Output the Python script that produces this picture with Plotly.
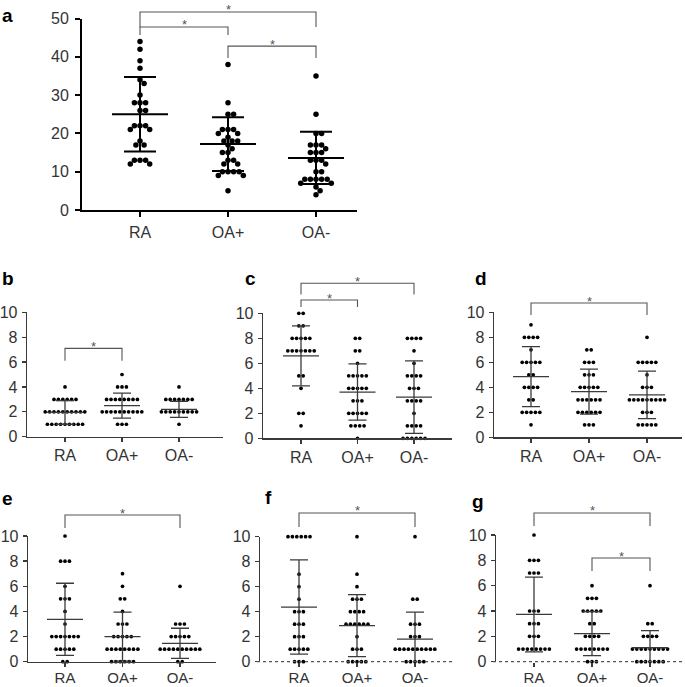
import math
import plotly.graph_objects as go

W, H = 685, 687
categories = ["RA", "OA+", "OA-"]

# ---------------- data ----------------
a_RA = [44, 42, 39, 37, 34, 33, 30, 28, 28, 28, 26, 26, 22, 22, 22, 21, 21, 18, 17, 17, 13, 13, 13, 12, 12]
a_OAp = [38, 28, 25, 25, 21, 21, 21, 20, 20, 19, 18, 18, 18, 17, 16, 15, 15, 13, 13, 12, 12, 10, 10, 10, 10, 9, 9, 5]
a_OAm = [35, 25, 20, 20, 17, 17, 17, 16, 15, 15, 15, 13, 13, 13, 12, 10, 10, 8, 8, 8, 8, 8, 7, 7, 6, 5, 4]

b_RA = [4, 3, 3, 3, 3, 3, 3, 2, 2, 2, 2, 2, 2, 2, 2, 2, 2, 1, 1, 1, 1, 1, 1, 1, 1, 1]
b_OAp = [5, 4, 4, 4, 3, 3, 3, 3, 3, 3, 3, 3, 2, 2, 2, 2, 2, 2, 2, 2, 2, 2, 1, 1, 1]
b_OAm = [4, 3, 3, 3, 3, 3, 3, 3, 2, 2, 2, 2, 2, 2, 2, 2, 2, 1]

c_RA = [10, 10, 9, 9, 8, 8, 8, 8, 8, 7, 7, 7, 7, 7, 7, 7, 5, 5, 4, 2, 2, 1]
c_OAp = [8, 8, 7, 7, 6, 5, 5, 5, 5, 5, 4, 4, 4, 4, 4, 3, 3, 3, 2, 2, 2, 2, 2, 1, 1, 1, 1, 0]
c_OAm = [8, 8, 8, 8, 7, 6, 5, 5, 5, 5, 4, 4, 4, 3, 3, 3, 3, 2, 1, 1, 1, 1, 0, 0, 0, 0, 0, 0]

d_RA = [9, 8, 8, 8, 8, 7, 6, 6, 6, 6, 6, 5, 5, 4, 4, 4, 4, 3, 3, 2, 2, 2, 2, 2, 1]
d_OAp = [7, 7, 6, 6, 6, 5, 5, 5, 4, 4, 4, 4, 4, 3, 3, 3, 3, 3, 3, 2, 2, 2, 2, 2, 2, 1, 1, 1]
d_OAm = [8, 6, 6, 6, 6, 6, 5, 4, 4, 4, 3, 3, 3, 3, 3, 3, 3, 3, 3, 2, 2, 2, 1, 1, 1, 1, 1]

e_RA = [10, 8, 8, 8, 6, 5, 5, 5, 4, 3, 2, 2, 2, 2, 2, 2, 2, 1, 1, 1, 1, 1, 0, 0]
e_OAp = [7, 6, 5, 5, 4, 3, 3, 3, 2, 2, 2, 2, 2, 1, 1, 1, 1, 1, 1, 1, 1, 0, 0, 0, 0, 0, 0]
e_OAm = [6, 3, 3, 3, 2, 2, 2, 2, 2, 1, 1, 1, 1, 1, 1, 1, 1, 1, 1, 0, 0]

f_RA = [10, 10, 10, 10, 10, 10, 7, 6, 5, 4, 4, 4, 3, 3, 3, 2, 2, 2, 1, 1, 1, 1, 1, 0, 0, 0]
f_OAp = [10, 7, 6, 5, 5, 5, 4, 4, 4, 4, 3, 3, 3, 3, 3, 3, 2, 1, 1, 1, 0, 0, 0, 0, 0]
f_OAm = [10, 5, 5, 3, 3, 3, 2, 2, 2, 1, 1, 1, 1, 1, 1, 1, 1, 1, 1, 0, 0, 0, 0, 0]

g_RA = [10, 8, 8, 8, 7, 7, 7, 4, 4, 4, 3, 3, 3, 2, 2, 2, 1, 1, 1, 1, 1, 1, 1, 1]
g_OAp = [6, 5, 5, 5, 4, 4, 4, 4, 4, 3, 3, 2, 2, 2, 2, 1, 1, 1, 1, 1, 1, 1, 1, 0, 0, 0]
g_OAm = [6, 3, 3, 2, 2, 2, 2, 1, 1, 1, 1, 1, 1, 1, 1, 1, 0, 0, 0, 0, 0, 0, 0]

# group means and SDs as drawn in the reference
a_mean = [25.0, 17.2, 13.6]; a_sd = [9.7, 7.0, 6.8]
b_mean = [1.95, 2.5, 2.2]; b_sd = [0.95, 1.0, 0.65]
c_mean = [6.6, 3.7, 3.3]; c_sd = [2.4, 2.25, 2.9]
d_mean = [4.85, 3.65, 3.4]; d_sd = [2.4, 1.8, 1.9]
e_mean = [3.37, 2.0, 1.46]; e_sd = [2.87, 1.95, 1.2]
f_mean = [4.37, 2.88, 1.81]; f_sd = [3.77, 2.48, 2.15]
g_mean = [3.73, 2.22, 1.1]; g_sd = [2.95, 1.74, 1.35]

# significance brackets: (group i, group j, bracket level, leg end)
a_brackets = [(0, 2, 51.7, 47.8), (0, 1, 47.8, 45.7), (1, 2, 42.8, 39.7)]
b_brackets = [(0, 1, 7.1, 6.1)]
c_brackets = [(0, 2, 12.4, 11.5), (0, 1, 11.06, 10.5)]
d_brackets = [(0, 2, 10.74, 9.78)]
e_brackets = [(0, 2, 11.67, 10.64)]
f_brackets = [(0, 2, 11.9, 10.78)]
g_brackets = [(0, 2, 11.74, 10.71), (1, 2, 8.18, 7.16)]

# ---------------- layout geometry (pixels) ----------------
panels = {
    "a": dict(groups=[a_RA, a_OAp, a_OAm], mean=a_mean, sd=a_sd, br=a_brackets,
              axis=82, right=357, cat0=140, step=88, top=18.5, bot=210, ymax=50,
              ticks=[0, 10, 20, 30, 40, 50], label=(8, 15), big=True, dotted=False,
              xstand=2, xfont=16),
    "b": dict(groups=[b_RA, b_OAp, b_OAm], mean=b_mean, sd=b_sd, br=b_brackets,
              axis=27, right=223, cat0=65, step=57, top=312.3, bot=436.7, ymax=10,
              ticks=[0, 2, 4, 6, 8, 10], label=(8, 278), big=False, dotted=False,
              xstand=0, xfont=16),
    "c": dict(groups=[c_RA, c_OAp, c_OAm], mean=c_mean, sd=c_sd, br=c_brackets,
              axis=263, right=452, cat0=301, step=56.5, top=313.3, bot=438.3, ymax=10,
              ticks=[0, 2, 4, 6, 8, 10], label=(250, 278), big=False, dotted=False,
              xstand=0, xfont=16),
    "d": dict(groups=[d_RA, d_OAp, d_OAm], mean=d_mean, sd=d_sd, br=d_brackets,
              axis=494, right=682, cat0=531, step=58, top=312.3, bot=437.3, ymax=10,
              ticks=[0, 2, 4, 6, 8, 10], label=(481, 278), big=False, dotted=False,
              xstand=0, xfont=16),
    "e": dict(groups=[e_RA, e_OAp, e_OAm], mean=e_mean, sd=e_sd, br=e_brackets,
              axis=28, right=216, cat0=65, step=57.5, top=536, bot=661.7, ymax=10,
              ticks=[0, 2, 4, 6, 8, 10], label=(8, 499), big=False, dotted=False,
              xstand=-2, xfont=15),
    "f": dict(groups=[f_RA, f_OAp, f_OAm], mean=f_mean, sd=f_sd, br=f_brackets,
              axis=260, right=455, cat0=299, step=58, top=536.7, bot=661.7, ymax=10,
              ticks=[0, 2, 4, 6, 8, 10], label=(268, 497), big=False, dotted=True,
              xstand=-2, xfont=15),
    "g": dict(groups=[g_RA, g_OAp, g_OAm], mean=g_mean, sd=g_sd, br=g_brackets,
              axis=496, right=684, cat0=534, step=58, top=535, bot=661.7, ymax=10,
              ticks=[0, 2, 4, 6, 8, 10], label=(478, 501), big=False, dotted=True,
              xstand=-2, xfont=15),
}

FONT = "Liberation Sans, Arial, sans-serif"


def beeswarm(vals, ppu, d):
    placed = []
    offs = [0.0] * len(vals)
    order = sorted(range(len(vals)), key=lambda i: -vals[i])
    for i in order:
        y = vals[i] * ppu
        cands = [0.0]
        for xj, yj in placed:
            dy = abs(y - yj)
            if dy < d:
                dx = math.sqrt(d * d - dy * dy)
                cands += [xj + dx, xj - dx]
        cands.sort(key=abs)
        chosen = cands[-1]
        for c in cands:
            if all((c - xj) ** 2 + (y - yj) ** 2 >= d * d - 1e-6 for xj, yj in placed):
                chosen = c
                break
        placed.append((chosen, y))
        offs[i] = chosen
    return offs


def rows(vals, sp):
    offs = [0.0] * len(vals)
    groups = {}
    for i, v in enumerate(vals):
        groups.setdefault(v, []).append(i)
    for v, idx in groups.items():
        n = len(idx)
        for k, i in enumerate(idx):
            offs[i] = (k - (n - 1) / 2) * sp
    return offs


fig = go.Figure()
shapes = []
annotations = []
layout = {}

for n, (key, p) in enumerate(panels.items()):
    sfx = "" if n == 0 else str(n + 1)
    xa, ya = "x" + sfx, "y" + sfx
    ppu = (p["bot"] - p["top"]) / p["ymax"]

    def xpaper(v, p=p):
        return (p["cat0"] + v * p["step"]) / W

    def ypaper(v, p=p, ppu=ppu):
        return 1 - (p["bot"] - v * ppu) / H

    big = p["big"]
    lc = "#000000" if big else "#3a3a3a"
    lw = 2 if big else 1.3
    msize = 5.5 if big else 3.7

    # dots
    xs, ys = [], []
    for gi, vals in enumerate(p["groups"]):
        offs = beeswarm(vals, ppu, 5.6) if big else rows(vals, 4.4)
        for v, o in zip(vals, offs):
            xs.append(gi + o / p["step"])
            ys.append(v)
    fig.add_trace(go.Scatter(x=xs, y=ys, mode="markers", xaxis=xa, yaxis=ya,
                             marker=dict(size=msize, color="#000000", line=dict(width=0)),
                             cliponaxis=False, hoverinfo="skip"))

    # mean and SD lines
    hm = (28 if big else 18) / p["step"]
    hc = (16 if big else 9) / p["step"]
    lx, ly = [], []
    for gi, (m, s) in enumerate(zip(p["mean"], p["sd"])):
        lx += [gi - hm, gi + hm, None, gi, gi, None, gi - hc, gi + hc, None, gi - hc, gi + hc, None]
        ly += [m, m, None, m - s, m + s, None, m + s, m + s, None, m - s, m - s, None]
    fig.add_trace(go.Scatter(x=lx, y=ly, mode="lines", xaxis=xa, yaxis=ya,
                             line=dict(color=lc, width=lw), hoverinfo="skip"))

    x0 = (p["axis"] - p["cat0"]) / p["step"]
    x1 = (p["right"] - p["cat0"]) / p["step"]
    ytickfont = dict(family=FONT, size=16, color="#333333")
    xtickfont = dict(family=FONT, size=p["xfont"], color="#333333")
    layout["xaxis" + sfx] = dict(
        domain=[p["axis"] / W, p["right"] / W], range=[x0, x1], anchor=ya,
        tickmode="array", tickvals=[0, 1, 2], ticktext=categories,
        showline=not p["dotted"], linecolor=lc, linewidth=lw,
        ticks="outside", ticklen=5 if big else 4, tickwidth=lw, tickcolor=lc,
        showgrid=False, zeroline=False, tickfont=xtickfont, automargin=False,
        ticklabelstandoff=p["xstand"], fixedrange=True)
    layout["yaxis" + sfx] = dict(
        domain=[1 - p["bot"] / H, 1 - p["top"] / H], range=[0, p["ymax"]], anchor=xa,
        tickmode="array", tickvals=p["ticks"],
        showline=True, linecolor=lc, linewidth=lw,
        ticks="outside", ticklen=5 if big else 4, tickwidth=lw, tickcolor=lc,
        showgrid=False, zeroline=False, tickfont=ytickfont, automargin=False,
        ticklabelstandoff=3 if big else 1, fixedrange=True)

    if p["dotted"]:
        shapes.append(dict(type="line", xref="paper", yref="paper",
                           x0=(p["axis"] - 3) / W, x1=p["right"] / W,
                           y0=ypaper(0), y1=ypaper(0),
                           line=dict(color="#555555", width=1.2, dash="dot")))

    # brackets
    for gi, gj, lev, leg in p["br"]:
        xi, xj = xpaper(gi), xpaper(gj)
        yl, yg = ypaper(lev), ypaper(leg)
        shapes.append(dict(type="path", xref="paper", yref="paper",
                           path=f"M {xi},{yg} L {xi},{yl} L {xj},{yl} L {xj},{yg}",
                           line=dict(color="#555555", width=1.1)))
        annotations.append(dict(x=(xi + xj) / 2, y=yl + 2.0 / H, xref="paper", yref="paper",
                                text="*", showarrow=False, xanchor="center", yanchor="middle",
                                font=dict(family=FONT, size=13, color="#555555")))

    # panel letter
    lxp, lyp = p["label"]
    annotations.append(dict(x=lxp / W, y=1 - lyp / H, xref="paper", yref="paper",
                            text="<b>" + key + "</b>", showarrow=False,
                            xanchor="center", yanchor="middle",
                            font=dict(family=FONT, size=19, color="#000000")))

fig.update_layout(
    width=W, height=H, margin=dict(l=0, r=0, t=0, b=0, autoexpand=False),
    paper_bgcolor="white", plot_bgcolor="white", showlegend=False,
    shapes=shapes, annotations=annotations, **layout)

fig.write_html("out.html", config={"displayModeBar": False, "staticPlot": True},
               post_script="document.body.style.margin='0';document.body.style.overflow='hidden';")
